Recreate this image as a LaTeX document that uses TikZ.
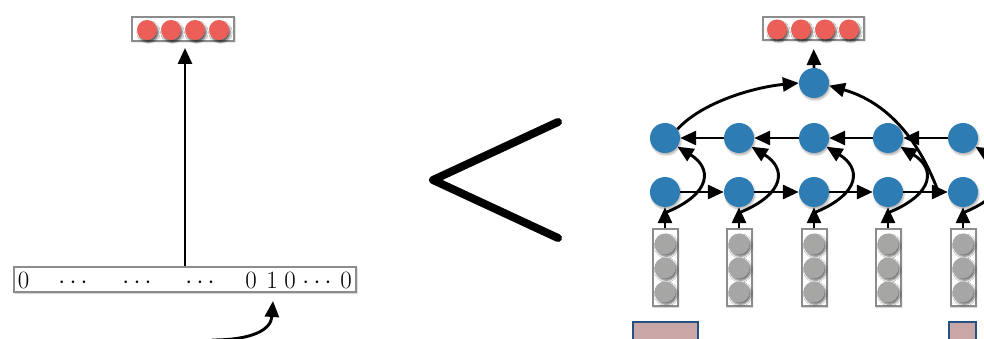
\documentclass[tikz,border=0pt]{standalone}
\usetikzlibrary{arrows.meta,shadows.blur}
\definecolor{redc}{RGB}{236,94,88}
\definecolor{bluec}{RGB}{45,124,180}
\definecolor{grayc}{RGB}{166,167,165}
\definecolor{boxc}{RGB}{138,140,142}
\definecolor{pinkc}{RGB}{201,167,167}
\definecolor{navyc}{RGB}{36,82,132}
\begin{document}
\begin{tikzpicture}[x=1pt,y=-1pt,
  arr/.style={line width=2.9pt, -{Triangle[length=16pt,width=14pt]}},
  vbox/.style={draw=boxc, line width=2pt, fill=white, inner sep=0pt,
    blur shadow={shadow xshift=1pt, shadow yshift=-1pt, shadow opacity=25, shadow blur steps=4}},
  redball/.style={circle, fill=redc, minimum size=20pt, inner sep=0pt,
    blur shadow={shadow xshift=1.5pt, shadow yshift=-2.5pt, shadow opacity=60, shadow blur steps=6}},
  grayball/.style={circle, fill=grayc, minimum size=21pt, inner sep=0pt,
    blur shadow={shadow xshift=1.5pt, shadow yshift=-2pt, shadow opacity=55, shadow blur steps=6}},
  hnode/.style={circle, fill=bluec, minimum size=30pt, inner sep=0pt,
    blur shadow={shadow xshift=1pt, shadow yshift=-2pt, shadow opacity=30, shadow blur steps=6}},
  emb/.style={draw=navyc, fill=pinkc, line width=2.2pt, inner sep=0pt},
  bit/.style={inner sep=0pt, anchor=base, font=\fontsize{26}{30}\selectfont}
]
\useasboundingbox (0,0) rectangle (984,339);
\clip (0,0) rectangle (984,339);

% ---------- left part ----------
\node[vbox, minimum width=102pt, minimum height=24pt] (outL) at (183,29) {};
\foreach \k/\x in {1/147,2/171,3/195,4/219}
  \node[redball] (rl\k) at (\x,30) {};

\node[vbox, minimum width=342pt, minimum height=25pt] (inbox) at (185,279.5) {};
\node[bit] (t1) at (23.5,288) {$0$};
\node[bit] (t2) at (73,288) {$\cdots$};
\node[bit] (t3) at (137,288) {$\cdots$};
\node[bit] (t4) at (200,288) {$\cdots$};
\node[bit] (t5) at (251,288) {$0$};
\node[bit] (t6) at (272,288) {$1$};
\node[bit] (t7) at (290,288) {$0$};
\node[bit] (t8) at (317,288) {$\cdots$};
\node[bit] (t9) at (346,288) {$0$};

\draw[arr, shorten >=6pt] (inbox.north) -- (inbox.north |- outL.south);

\coordinate (cs) at (212,340);
\coordinate (ce) at (273,301);
\draw[arr] (cs) .. controls (252,340) and (271,330) .. (ce);

% ---------- the "<" sign ----------
\draw[line width=8pt, line cap=round, line join=round] (558,122) -- (433,180) -- (558,238);

% ---------- right part ----------
\node[vbox, minimum width=101pt, minimum height=23pt] (outR) at (813.5,28.5) {};
\foreach \k/\x in {1/777,2/801,3/825,4/849}
  \node[redball] (rr\k) at (\x,29.5) {};

\node[hnode] (top) at (814,83) {};

\foreach \i/\x in {1/665,2/739,3/814,4/888,5/963}{
  \node[hnode] (m\i) at (\x,138) {};
  \node[hnode] (b\i) at (\x,192) {};
  \node[vbox, minimum width=25pt, minimum height=77pt] (g\i) at (\x,267.5) {};
  \node[grayball] (ga\i) at (\x,244) {};
  \node[grayball] (gb\i) at (\x,268) {};
  \node[grayball] (gc\i) at (\x,292) {};
}

\node[emb, minimum width=65pt, minimum height=40pt] (p1) at (665.5,342) {};
\node[emb, minimum width=27pt, minimum height=40pt] (p2) at (962.5,342) {};

% arrows
\draw[arr, shorten >=8pt] (top.north) -- (outR.south);

\foreach \i in {1,...,5}{
  \draw[arr] (g\i.north) -- (b\i.south);
}
\foreach \i/\j in {1/2,2/3,3/4,4/5}{
  \draw[arr] (m\j.west) -- (m\i.east);
  \draw[arr] (b\i.east) -- (b\j.west);
}
\foreach \i/\x in {1/665,2/739,3/814,4/888,5/963}{
  \coordinate (s\i) at (\x+2,212);
  \draw[arr] (s\i) .. controls (\x+47,193) and (\x+47,168) .. (m\i.-35);
}

\draw[arr] (m1.35) .. controls (702,102) and (755,87) .. (top.west);
\coordinate (j) at (938,191);
\draw[arr] (j) .. controls (915,130) and (880,100) .. (top.-10);

\end{tikzpicture}
\end{document}
